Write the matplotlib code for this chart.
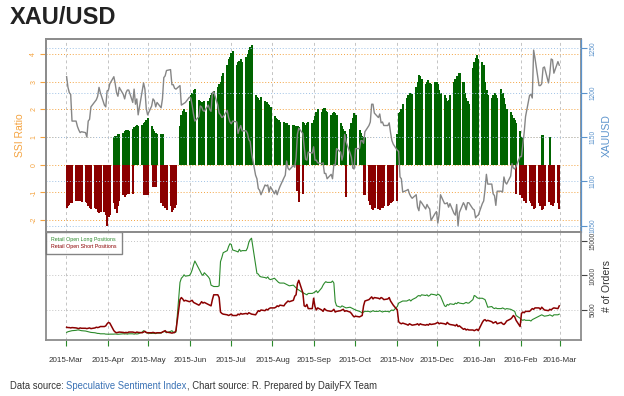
import numpy as np
import matplotlib
matplotlib.use("Agg")
import matplotlib.pyplot as plt

plt.rcParams['font.family'] = ['Liberation Sans', 'DejaVu Sans']

# trading days (Mon-Fri) shown on the chart
days = np.arange(np.datetime64("2015-03-02"), np.datetime64("2016-03-02"))
days = days[np.is_busday(days)]
origin = np.datetime64("2015-03-01")
x = (days - origin).astype(int)

month_labels = ["2015-Mar", "2015-Apr", "2015-May", "2015-Jun", "2015-Jul", "2015-Aug",
                "2015-Sep", "2015-Oct", "2015-Nov", "2015-Dec", "2016-Jan", "2016-Feb", "2016-Mar"]
months = np.arange(np.datetime64("2015-03"), np.datetime64("2016-04"), dtype="datetime64[M]")
month_x = (months.astype("datetime64[D]") - origin).astype(int)

# SSI ratio, one value per trading day (one row = one week)
ssi = [
    -1.55, -1.5, -1.45, -1.4, -1.4,
    -1.3, -1.3, -1.25, -1.3, -1.35,
    -1.35, -1.4, -1.5, -1.55, -1.6,
    -1.55, -1.6, -1.7, -1.75, -1.7,
    -1.7, -1.8, -2.2, -1.9, -1.8,
    -1.4, -1.6, -1.75, -1.5, -1.3,
    1.15, 1.2, 1.25, 1.25, 1.2,
    1.3, 1.35, 1.4, 1.45, 1.4,
    1.45, 1.5, 1.55, 1.6, 1.7,
    1.4, 1.3, 1.2, 1.15, 1.1,
    1.1, 1.1, -1.3, -1.55, -1.65,
    -1.5, -1.7, -1.65, -1.55, -1.45,
    1.4, 1.8, 1.95, 2.0, 1.9,
    2.3, 2.5, 2.6, 2.7, 2.75,
    2.35, 2.3, 2.25, 2.2, 2.3,
    2.3, 2.4, 2.5, 2.6, 2.65,
    2.8, 2.9, 3.0, 3.2, 3.3,
    3.6, 3.8, 3.9, 4.05, 4.1,
    3.6, 3.7, 3.75, 3.8, 3.7,
    3.9, 4.0, 4.15, 4.25, 4.33,
    2.5, 2.45, 2.4, 2.35, 2.45,
    2.3, 2.25, 2.2, 2.15, 2.1,
    1.75, 1.7, 1.65, 1.6, 1.55,
    1.55, 1.5, 1.5, 1.45, 1.45,
    1.45, 1.4, 1.4, 1.4, 1.35,
    1.55, 1.5, 1.45, 1.5, 1.55,
    1.5, 1.6, 1.75, 1.9, 2.0,
    1.9, 2.0, 2.05, 1.95, 1.9,
    1.8, 1.85, 1.9, 1.85, 1.8,
    1.5, 1.4, 1.3, 1.2, 1.1,
    1.3, 1.5, 1.7, 1.85, 1.8,
    1.25, 1.15, 1.05, -1.1, 1.0,
    -1.3, -1.45, -1.6, -1.65, -1.55,
    -1.6, -1.65, -1.55, -1.55, -1.5,
    -1.5, -1.45, -1.4, -1.35, -1.3,
    -1.3, 1.85, 1.9, 2.0, 2.2,
    2.4, 2.5, 2.6, 2.6, 2.55,
    2.8, 3.0, 3.25, 3.2, 3.1,
    2.9, 3.0, 3.05, 2.95, 2.9,
    3.0, 3.0, 2.9, 2.7, 2.6,
    2.5, 2.4, 2.3, 2.35, 2.5,
    3.0, 3.1, 3.2, 3.2, 3.3,
    3.0, 2.6, 2.4, 2.3, 2.2,
    3.5, 3.7, 3.85, 3.96, 3.8,
    3.7, 3.6, 3.0, 2.7, 2.5,
    2.4, 2.5, 2.6, 2.5, 2.4,
    2.75, 2.6, 2.4, 2.2, 2.0,
    1.9, 1.8, 1.7, 1.6, -1.05,
    1.2, 1.0, -1.2, -1.3, -1.4,
    -1.3, -1.4, -1.5, -1.6, -1.55,
    -1.4, -1.5, -1.65, -1.6, -1.5,
    -1.35, -1.3, -1.45, -1.5, -1.4,
    -1.4, -1.6,
]
# days where the ratio flipped sign during the session
flip_idx = [25, 26, 27, 28, 29, 30, 31, 32, 33, 34, 35, 41, 42, 43, 44, 46, 47, 48,
            50, 51, 123, 124, 125, 149, 158, 159, 175, 239, 240, 241, 242, 252, 253, 256]
flip_val = [1.0, 1.05, 1.05, 1.1, 1.1, -1.1, -1.15, -1.1, -1.05, -1.05, -1.05, -1.1, -1.1, -1.1, -1.1, -0.8, -0.8, -0.8,
            -1.4, -1.5, -0.95, -1.35, -1.05, -1.15, 1.0, -1.1, 1.1, 1.5, -1.1, -1.2, 0.9, 1.07, 1.07, 1.0]

# XAU/USD price
price = [
    1218, 1206, 1200, 1198, 1168,
    1168, 1162, 1158, 1155, 1156,
    1155, 1150, 1168, 1170, 1184,
    1190, 1192, 1196, 1206, 1200,
    1186, 1184, 1202, 1203, 1210,
    1218, 1210, 1200, 1196, 1206,
    1198, 1193, 1200, 1203, 1203,
    1189, 1204, 1187, 1193, 1175,
    1202, 1211, 1204, 1182, 1175,
    1185, 1193, 1191, 1184, 1189,
    1183, 1193, 1217, 1219, 1225,
    1226, 1209, 1209, 1205, 1204,
    1208, 1186, 1187, 1188, 1189,
    1195, 1194, 1186, 1176, 1168,
    1173, 1185, 1184, 1180, 1179,
    1186, 1181, 1179, 1200, 1201,
    1186, 1177, 1175, 1172, 1173,
    1180, 1172, 1167, 1165, 1168,
    1167, 1154, 1159, 1163, 1157,
    1157, 1154, 1147, 1145, 1132,
    1107, 1103, 1092, 1090, 1085,
    1096, 1095, 1096, 1088, 1094,
    1086, 1090, 1085, 1090, 1094,
    1104, 1107, 1123, 1115, 1113,
    1118, 1116, 1127, 1153, 1160,
    1154, 1139, 1125, 1124, 1133,
    1132, 1139, 1124, 1124, 1121,
    1120, 1121, 1109, 1109, 1103,
    1108, 1103, 1119, 1118, 1137,
    1133, 1124, 1131, 1153, 1145,
    1132, 1127, 1115, 1114, 1137,
    1137, 1146, 1146, 1143, 1156,
    1163, 1167, 1187, 1187, 1177,
    1172, 1176, 1166, 1167, 1163,
    1163, 1166, 1155, 1146, 1142,
    1135, 1134, 1105, 1103, 1088,
    1090, 1091, 1086, 1083, 1081,
    1085, 1071, 1067, 1078, 1076,
    1069, 1074, 1071, 1069, 1056,
    1064, 1066, 1053, 1063, 1085,
    1075, 1075, 1076, 1071, 1075,
    1064, 1062, 1074, 1050, 1065,
    1076, 1073, 1068, 1076, 1076,
    1069, 1068, 1059, 1061, 1062,
    1075, 1078, 1091, 1108, 1097,
    1097, 1086, 1084, 1073, 1089,
    1089, 1088, 1105, 1099, 1097,
    1106, 1120, 1115, 1114, 1117,
    1128, 1128, 1141, 1155, 1173,
    1197, 1198, 1194, 1248, 1239,
    1208, 1208, 1210, 1228, 1229,
    1211, 1222, 1238, 1237, 1222,
    1235, 1231,
]

# number of open orders
longs = [
    1750, 1850, 1900, 1950, 2000,
    2050, 2100, 2100, 2050, 2000,
    1950, 1900, 1850, 1800, 1750,
    1700, 1650, 1600, 1600, 1550,
    1550, 1500, 1500, 1480, 1500,
    1500, 1520, 1500, 1480, 1500,
    1550, 1520, 1550, 1500, 1550,
    1550, 1500, 1550, 1520, 1550,
    1800, 2000, 1900, 1700, 1650,
    1600, 1620, 1600, 1580, 1650,
    1650, 1800, 1900, 1850, 1700,
    1900, 2000, 1800, 1700, 1800,
    9000, 9600, 9800, 10100, 9900,
    10000, 10300, 10800, 11500, 12100,
    11000, 10600, 10200, 10000, 10400,
    9800, 9500, 8600, 8500, 8400,
    8400, 8500, 12000, 12600, 13300,
    13600, 14200, 14600, 14500, 13700,
    13500, 13400, 13800, 13500, 13600,
    13600, 14000, 14800, 15200, 15400,
    11500, 10300, 10200, 9900, 9800,
    9700, 9600, 9800, 9500, 9400,
    9600, 9400, 9200, 9000, 8900,
    8900, 8800, 8700, 8600, 8500,
    8600, 8400, 8200, 8000, 7900,
    7500, 7400, 7300, 7200, 7400,
    7400, 7500, 7600, 7800, 7500,
    8200, 8600, 8900, 9100, 9000,
    9000, 9200, 8900, 6200, 5600,
    5400, 5600, 5500, 5400, 5300,
    5400, 5300, 5200, 5100, 5000,
    4800, 4700, 4600, 4700, 4800,
    4800, 4700, 4800, 4900, 4800,
    4800, 4900, 4800, 4700, 4800,
    4800, 4700, 4900, 5000, 4900,
    5500, 6000, 6100, 6200, 6300,
    6300, 6400, 6500, 6300, 6500,
    6800, 7000, 7100, 7000, 7200,
    7100, 7200, 7000, 7100, 7300,
    7200, 7100, 7300, 7200, 7000,
    5600, 5500, 5800, 5700, 5900,
    5800, 6000, 5900, 6100, 6000,
    5900, 6000, 6100, 6000, 6000,
    6500, 7100, 7000, 6800, 6700,
    6700, 6600, 6500, 6000, 5400,
    5500, 5300, 5200, 5300, 5200,
    5200, 5300, 5200, 5100, 5200,
    5100, 5000, 4900, 4800, 4200,
    3800, 3600, 3500, 3600, 3500,
    3500, 3400, 3600, 3700, 3800,
    4100, 4200, 4300, 4200, 4100,
    4200, 4300, 4200, 4100, 4300,
    4300, 4400,
]
shorts = [
    2500, 2450, 2450, 2400, 2450,
    2400, 2350, 2300, 2400, 2350,
    2350, 2300, 2350, 2400, 2300,
    2400, 2500, 2450, 2500, 2600,
    2600, 2700, 3000, 3200, 3100,
    2000, 1800, 1700, 1750, 1800,
    1750, 1700, 1750, 1700, 1800,
    1800, 1750, 1700, 1800, 1750,
    1700, 1800, 1900, 1750, 1700,
    1700, 1750, 1700, 1650, 1700,
    1700, 1800, 1900, 2000, 1800,
    1700, 1650, 1700, 1750, 2000,
    6500, 6800, 6600, 6300, 6400,
    6200, 6300, 6400, 6100, 6000,
    5700, 5900, 6200, 6000, 6100,
    5800, 5700, 5600, 6500, 7200,
    7200, 6800, 4700, 4500, 4400,
    4300, 4200, 4300, 4400, 4200,
    4200, 4400, 4300, 4500, 4400,
    4500, 4400, 4600, 4500, 4400,
    4300, 4600, 4900, 4800, 5000,
    4900, 5100, 5000, 5200, 5300,
    5300, 5400, 5600, 5500, 5700,
    5600, 5900, 6100, 6300, 6200,
    6400, 7000, 7200, 8800, 9300,
    7500, 5600, 5500, 5800, 5200,
    5200, 6700, 5500, 5000, 5300,
    5000, 4800, 5200, 5000, 4900,
    4800, 4900, 5100, 4700, 4800,
    4900, 5000, 5100, 4800, 4900,
    4700, 4500, 4200, 4000, 4100,
    4000, 4100, 4200, 5600, 6300,
    6500, 6700, 6900, 6600, 6800,
    6700, 6600, 6800, 6700, 6500,
    6600, 6800, 6300, 6000, 5700,
    5000, 3300, 3100, 3000, 3100,
    2900, 2800, 3000, 2900, 2800,
    2900, 3000, 2800, 3000, 2900,
    2800, 2900, 2800, 3000, 2900,
    3000, 3100, 3200, 3000, 3100,
    3000, 2900, 3200, 3000, 2900,
    2800, 2700, 2900, 2600, 2700,
    2200, 2300, 2100, 2200, 2100,
    2100, 2000, 2100, 2200, 2000,
    3200, 3500, 3600, 3400, 3500,
    3300, 3100, 3200, 3300, 3000,
    3200, 3000, 2900, 3100, 3400,
    3700, 3900, 4200, 4000, 3500,
    2600, 4500, 4700, 4600, 4800,
    4800, 5000, 5200, 5100, 5300,
    5300, 5100, 5400, 5200, 5000,
    4900, 5100, 5000, 5200, 5300,
    5200, 5600,
]

GREEN = "#006400"
RED = "#8b0000"
ORANGE = "#f4a340"
BLUE = "#5b93cc"
FRAME = "#8c8c8c"

W, H = 624, 396
fig = plt.figure(figsize=(W / 100, H / 100), dpi=100)
L, R = 45.7, 581
ax = fig.add_axes([L / W, 1 - 232 / H, (R - L) / W, (232 - 39) / H])
ax2 = fig.add_axes([L / W, 1 - 340 / H, (R - L) / W, (340 - 232) / H])
xlim = (-15.0, 381.6)

# --- top panel: SSI bars ---
ssi_arr = np.array(ssi)
fx = x[flip_idx]
fv = np.array(flip_val)
bx = np.concatenate([x, fx]) - 1.2
bv = np.concatenate([ssi_arr, fv])
cols = np.where(bv > 0, GREEN, RED)
ax.bar(bx, bv, width=1.55, align="edge", color=cols, linewidth=0, zorder=2)

ax.set_xlim(*xlim)
ax.set_ylim(-2.43, 4.54)
ax.set_yticks([-2, -1, 0, 1, 2, 3, 4])
ax.set_yticklabels(["-2", "-1", "0", "1", "2", "3", "4"], rotation=90, va="center")
ax.tick_params(axis="y", colors=ORANGE, labelsize=5, length=4, width=0.8, pad=2)
ax.set_xticks(month_x)
ax.tick_params(axis="x", length=0, labelbottom=False)
for v in [-2, -1, 0, 1, 2, 3, 4]:
    ax.axhline(v, color=ORANGE, lw=0.7, ls=(0, (1, 2)), zorder=1)
for m in month_x:
    ax.axvline(m, color="#c4c4c4", lw=0.7, ls=(0, (3, 3)), zorder=1)
ax.set_ylabel("SSI Ratio", color=ORANGE, fontsize=7.5, labelpad=4)

axp = ax.twinx()
axp.set_ylim(1043, 1260.5)
axp.set_xlim(*xlim)
for v in [1050, 1100, 1150, 1200, 1250]:
    axp.axhline(v, color="#9fc2e6", lw=0.7, ls=(0, (1, 2)), zorder=1)
axp.plot(x - 0.5, price, color="#868686", lw=1.0, zorder=3)
axp.set_yticks([1050, 1100, 1150, 1200, 1250])
axp.set_yticklabels(["1050", "1100", "1150", "1200", "1250"], rotation=90, va="center")
axp.tick_params(axis="y", colors=BLUE, labelsize=4.8, length=4, width=0.8, pad=2)
axp.set_ylabel("XAUUSD", color=BLUE, fontsize=7.5, labelpad=4)

for a in (ax, axp):
    for s in a.spines.values():
        s.set_color(FRAME)
        s.set_linewidth(1.3)
axp.spines["right"].set_color(BLUE)
axp.spines["right"].set_linewidth(0.9)

# --- bottom panel: open positions ---
ax2.set_xlim(*xlim)
ax2.set_ylim(650, 16300)
for v in [5000, 10000, 15000]:
    ax2.axhline(v, color="#c4c4c4", lw=0.7, ls=(0, (1, 2)), zorder=1)
for m in month_x:
    ax2.axvline(m, color="#c4c4c4", lw=0.7, ls=(0, (3, 3)), zorder=1)
ax2.plot(x - 0.5, longs, color="#2b8a2b", lw=0.8, label="Retail Open Long Positions", zorder=3)
ax2.plot(x - 0.5, shorts, color=RED, lw=1.1, label="Retail Open Short Positions", zorder=3)
ax2.yaxis.tick_right()
ax2.yaxis.set_label_position("right")
ax2.set_yticks([5000, 10000, 15000])
ax2.set_yticklabels(["5000", "10000", "15000"], rotation=90, va="center")
ax2.tick_params(axis="y", colors="#444444", labelsize=4.8, length=4, width=0.8, pad=2)
ax2.set_ylabel("# of Orders", color="#333333", fontsize=7.5, labelpad=4)
ax2.set_xticks(month_x)
ax2.set_xticklabels(month_labels)
ax2.tick_params(axis="x", colors="#2b8a2b", length=4, width=0.8, labelsize=5.8, pad=8)
for lab in ax2.get_xticklabels():
    lab.set_color("#333333")
for s in ax2.spines.values():
    s.set_color(FRAME)
    s.set_linewidth(1.3)

leg = ax2.legend(loc="upper left", fontsize=3.8, handlelength=0, handletextpad=0,
                 frameon=True, fancybox=False, borderaxespad=0, borderpad=1.0,
                 labelspacing=0.3, labelcolor=["#2b8a2b", RED])
leg.get_frame().set_edgecolor("#666666")
leg.get_frame().set_linewidth(1.0)
for h in leg.legend_handles:
    h.set_visible(False)

# --- titles / footer ---
fig.text(10 / W, 1 - 18 / H, "XAU/USD", fontsize=17, weight="bold", color="#222222", va="center")
r = fig.canvas.get_renderer()
parts = [("Data source: ", "#333333"), ("Speculative Sentiment Index", "#3a72b5"),
         (", Chart source: R. Prepared by DailyFX Team", "#333333")]
px = 10
for txt, c in parts:
    t = fig.text(px / W, 1 - 386 / H, txt, fontsize=6.85, color=c, va="center")
    px += t.get_window_extent(r).width

fig.savefig("out.png", dpi=100)
